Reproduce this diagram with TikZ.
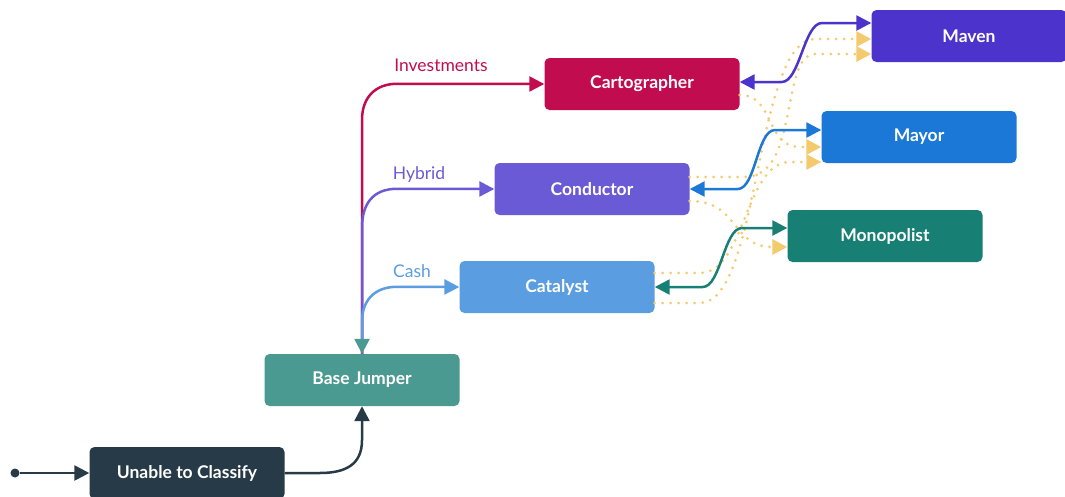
\documentclass[tikz,border=0pt]{standalone}
\usepackage{fontspec}
\setmainfont{Lato}
\usetikzlibrary{arrows.meta,positioning,calc}
\definecolor{cmav}{HTML}{4C33CC}
\definecolor{ccarto}{HTML}{C20C50}
\definecolor{cmayor}{HTML}{1B78D6}
\definecolor{ccond}{HTML}{6B5AD6}
\definecolor{cmono}{HTML}{187F74}
\definecolor{ccat}{HTML}{5A9DE0}
\definecolor{cbase}{HTML}{4A9A92}
\definecolor{cunk}{HTML}{263B47}
\definecolor{cyel}{HTML}{F3CA6E}

\begin{document}
\begin{tikzpicture}[x=1pt,y=-1pt,>={Triangle[length=15pt,width=15pt]},
  st/.style={rounded corners=5pt,minimum width=195pt,minimum height=52pt,inner sep=0pt,
    text=white,font=\fontsize{17.5}{20}\selectfont\bfseries},
  ed/.style={line width=2.5pt},
  dt/.style={->,cyel,line width=3pt,line cap=round,dash pattern=on 0pt off 8pt},
  lb/.style={font=\fontsize{17.5}{20}\selectfont,inner sep=0pt}]
\useasboundingbox (0,0) rectangle (1065,496);

\node[st,fill=cmav] (maven) at (969,36) {Maven};
\node[st,fill=ccarto] (carto) at (642,84) {Cartographer};
\node[st,fill=cmayor] (mayor) at (919,137) {Mayor};
\node[st,fill=ccond] (cond) at (592,189) {Conductor};
\node[st,fill=cmono] (mono) at (885,236) {Monopolist};
\node[st,fill=ccat] (cat) at (557,287) {Catalyst};
\node[st,fill=cbase] (base) at (362,380) {Base Jumper};
\node[st,fill=cunk] (unable) at (187,473) {Unable to Classify};
\node[circle,fill=cunk,inner sep=0pt,minimum size=9pt] (init) at (15,473) {};

\node[lb,text=ccarto] (linv) at (441,65) {Investments};
\node[lb,text=ccond] (lhyb) at (419,175) {Hybrid};
\node[lb,text=ccat] (lcash) at (412,271) {Cash};

% entry and first step
\draw[ed,cunk,->] (init) -- (unable);
\draw[ed,cunk,->] (unable.east) -- ++(35,0) .. controls +(25,0) and +(0,25) ..
  ($(base.south)+(0,34)$) -- (base.south);

% branches out of base jumper
\draw[ed,ccarto,->] (base.north) -- ++(0,-234) .. controls +(0,-22) and +(-22,0) ..
  ++(35,-36) -- (carto.west);
\draw[ed,ccond,->] (base.north) -- ++(0,-126) .. controls +(0,-24) and +(-24,0) ..
  ++(35,-39) -- (cond.west);
\draw[ed,ccat,{Triangle[length=15pt,width=15pt,color=cbase]}->] (base.north) -- ++(0,-32)
  .. controls +(0,-22) and +(-22,0) .. ++(35,-35) -- (cat.west);

% dotted ones, drawn under the solid pairs
\draw[dt] ($(carto.east)+(0,11)$) .. controls (775,95) and (765,147) .. (800,147)
  -- ($(mayor.west)+(0,10)$);
\draw[dt] ($(cond.east)+(0,-12)$) -- (745,177) .. controls (800,177) and (780,54) .. (815,54)
  -- ($(maven.west)+(0,18)$);
\draw[dt] ($(cond.east)+(0,12)$) .. controls (740,201) and (730,247) .. ($(mono.west)+(0,11)$);
\draw[dt] ($(cat.east)+(0,-14)$) -- (700,273) .. controls (745,273) and (745,162) .. (790,162)
  -- ($(mayor.west)+(0,25)$);
\draw[dt] ($(cat.east)+(0,16)$) -- (700,303) .. controls (760,303) and (755,39) .. (815,39)
  -- ($(maven.west)+(0,3)$);

% solid two-way pairs
\draw[ed,cmav,<->] ($(carto.east)+(0,-2)$) -- ++(42,0) .. controls +(18,0) and +(-18,0) ..
  (822,23) -- ($(maven.west)+(0,-13)$);
\draw[ed,cmayor,<->] (cond.east) -- ++(48,0) .. controls +(18,0) and +(-18,0) ..
  (775,130) -- ($(mayor.west)+(0,-7)$);
\draw[ed,cmono,<->] (cat.east) -- ++(48,0) .. controls +(18,0) and +(-18,0) ..
  (742,228) -- ($(mono.west)+(0,-8)$);
\end{tikzpicture}
\end{document}
